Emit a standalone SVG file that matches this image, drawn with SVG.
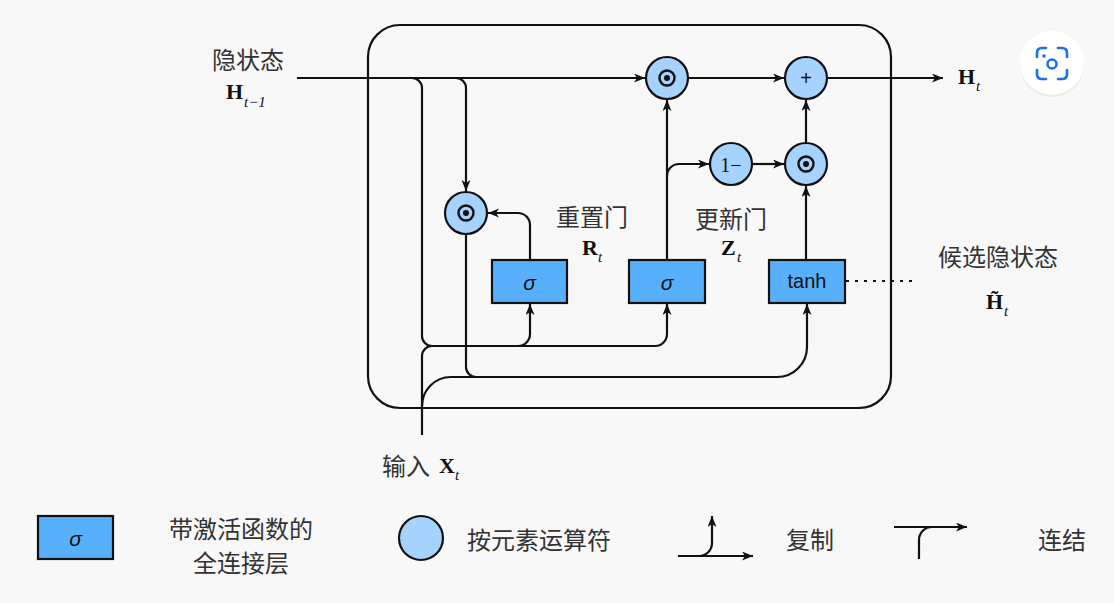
<svg xmlns="http://www.w3.org/2000/svg" width="1114" height="603" viewBox="0 0 1114 603">
<style>
.ln{fill:none;stroke:#111;stroke-width:2.2}
.ar{marker-end:url(#ah)}
.cir{fill:#a6d2fe;stroke:#111;stroke-width:2.2}
.box{fill:#58b0fc;stroke:#111;stroke-width:2.2}
.cjk{font-family:"Noto Sans CJK SC","Noto Sans",sans-serif;font-size:24px;fill:#333}
.m{font-family:"Liberation Serif",serif;font-weight:bold;font-size:22px;fill:#111}
.s{font-family:"Liberation Serif",serif;font-style:italic;font-size:15px;fill:#111}
.sig{font-family:"Liberation Sans",sans-serif;font-style:italic;font-size:21px;fill:#111}
.sans{font-family:"Liberation Sans",sans-serif;font-size:20px;fill:#111}
.ring{fill:none;stroke:#111;stroke-width:2.4}
</style>
<defs>
<marker id="ah" markerWidth="12" markerHeight="10" refX="11" refY="4.5" orient="auto" markerUnits="userSpaceOnUse">
<path d="M0,0 L11,4.5 L0,9 L3,4.5 z" fill="#111"/>
</marker>
</defs>
<rect width="1114" height="603" fill="#f8f8f8"/>

<rect id="cell" x="368" y="25" width="523" height="383" rx="32" class="ln"/>

<g id="connectors">
<path class="ln ar" d="M297,78 H645"/>
<path class="ln" d="M412,78 A10,10 0 0 1 422,88 V336 A10,10 0 0 0 432,346"/>
<path class="ln ar" d="M432,346 H518 A12,12 0 0 0 530,334 V304"/>
<path class="ln ar" d="M518,346 H655 A12,12 0 0 0 667,334 V304"/>
<path class="ln" d="M422,435 V356 A10,10 0 0 1 432,346"/>
<path class="ln ar" d="M422,406 A29,29 0 0 1 451,377 H777 A30,30 0 0 0 807,347 V304"/>
<path class="ln ar" d="M456,78 A10,10 0 0 1 466,88 V191"/>
<path class="ln" d="M466,234 V367 A10,10 0 0 0 476,377"/>
<path class="ln ar" d="M530,260 V225 A12,12 0 0 0 518,213 H488"/>
<path class="ln ar" d="M667,260 V100"/>
<path class="ln ar" d="M667,176 A12,12 0 0 1 679,164 H709"/>
<path class="ln ar" d="M753,164 H784"/>
<path class="ln ar" d="M688,78 H784"/>
<path class="ln ar" d="M806,142 V100"/>
<path class="ln ar" d="M806,260 V186"/>
<path class="ln ar" d="M828,78 H943"/>
<path class="ln" d="M846,281 H916" stroke-dasharray="3,6" stroke-width="2"/>
</g>

<g id="reset-mul">
<circle class="cir" cx="466" cy="213" r="21"/>
<circle class="ring" cx="466" cy="213" r="7.5"/>
<circle cx="466" cy="213" r="3" fill="#111"/>
</g>
<g id="top-mul">
<circle class="cir" cx="667" cy="78" r="21"/>
<circle class="ring" cx="667" cy="78" r="7.5"/>
<circle cx="667" cy="78" r="3" fill="#111"/>
</g>
<g id="plus">
<circle class="cir" cx="806" cy="78" r="21"/>
<text x="806" y="78" class="sans" font-size="17" text-anchor="middle" dominant-baseline="central">+</text>
</g>
<g id="one-minus">
<circle class="cir" cx="731" cy="164" r="21"/>
<text x="731" y="165" font-family="Liberation Serif, serif" font-size="20" fill="#111" text-anchor="middle" dominant-baseline="central">1−</text>
</g>
<g id="low-mul">
<circle class="cir" cx="806" cy="164" r="21"/>
<circle class="ring" cx="806" cy="164" r="7.5"/>
<circle cx="806" cy="164" r="3" fill="#111"/>
</g>

<g id="reset-gate">
<rect class="box" x="492" y="260" width="75" height="43"/>
<text x="529.5" y="282" class="sig" text-anchor="middle" dominant-baseline="central">σ</text>
</g>
<g id="update-gate">
<rect class="box" x="629" y="260" width="76" height="43"/>
<text x="667" y="282" class="sig" text-anchor="middle" dominant-baseline="central">σ</text>
</g>
<g id="candidate">
<rect class="box" x="769" y="260" width="76" height="43"/>
<text x="807" y="281" class="sans" text-anchor="middle" dominant-baseline="central">tanh</text>
</g>

<g id="labels">
<text x="248" y="58" class="cjk" text-anchor="middle" dominant-baseline="central">隐状态</text>
<text x="226" y="99" class="m">H</text><text x="244" y="107" class="s">t−1</text>
<text x="592" y="215" class="cjk" text-anchor="middle" dominant-baseline="central">重置门</text>
<text x="582" y="255" class="m">R</text><text x="598" y="262" class="s">t</text>
<text x="731" y="217" class="cjk" text-anchor="middle" dominant-baseline="central">更新门</text>
<text x="721" y="255" class="m">Z</text><text x="737" y="262" class="s">t</text>
<text x="998" y="255" class="cjk" text-anchor="middle" dominant-baseline="central">候选隐状态</text>
<text x="986" y="309" class="m">H̃</text><text x="1004" y="316" class="s">t</text>
<text x="958" y="84" class="m">H</text><text x="976" y="91" class="s">t</text>
<text x="406" y="464" class="cjk" text-anchor="middle" dominant-baseline="central">输入</text>
<text x="439" y="473" class="m">X</text><text x="455" y="480" class="s">t</text>
</g>

<g id="legend">
<rect class="box" x="38" y="516" width="75" height="43"/>
<text x="75.5" y="538" class="sig" text-anchor="middle" dominant-baseline="central">σ</text>
<text x="241" y="527" class="cjk" text-anchor="middle" dominant-baseline="central">带激活函数的</text>
<text x="241" y="561" class="cjk" text-anchor="middle" dominant-baseline="central">全连接层</text>
<circle class="cir" cx="421" cy="538" r="22"/>
<text x="467" y="538" class="cjk" dominant-baseline="central">按元素运算符</text>
<path class="ln ar" d="M678,556 H753"/>
<path class="ln ar" d="M699,556 A13,13 0 0 0 712,543 V516"/>
<text x="786" y="538" class="cjk" dominant-baseline="central">复制</text>
<path class="ln ar" d="M894,527 H967"/>
<path class="ln" d="M919,559 V540 A13,13 0 0 1 932,527"/>
<text x="1038" y="538" class="cjk" dominant-baseline="central">连结</text>
</g>

<g id="lens">
<circle cx="1052" cy="65" r="32" fill="#000" opacity="0.06"/>
<circle cx="1052" cy="63" r="32" fill="#ffffff"/>
<g fill="none" stroke="#1a73e8" stroke-width="2.6" stroke-linecap="round">
<path d="M1037,57 V53 Q1037,48 1042,48 H1046"/>
<path d="M1058,48 H1062 Q1067,48 1067,53 V57"/>
<path d="M1067,70 V74 Q1067,79 1062,79 H1058"/>
<path d="M1046,79 H1042 Q1037,79 1037,74 V70"/>
<circle cx="1052" cy="64" r="4.5"/>
</g>
<circle cx="1044" cy="56" r="1.8" fill="#1a73e8"/>
</g>
</svg>
